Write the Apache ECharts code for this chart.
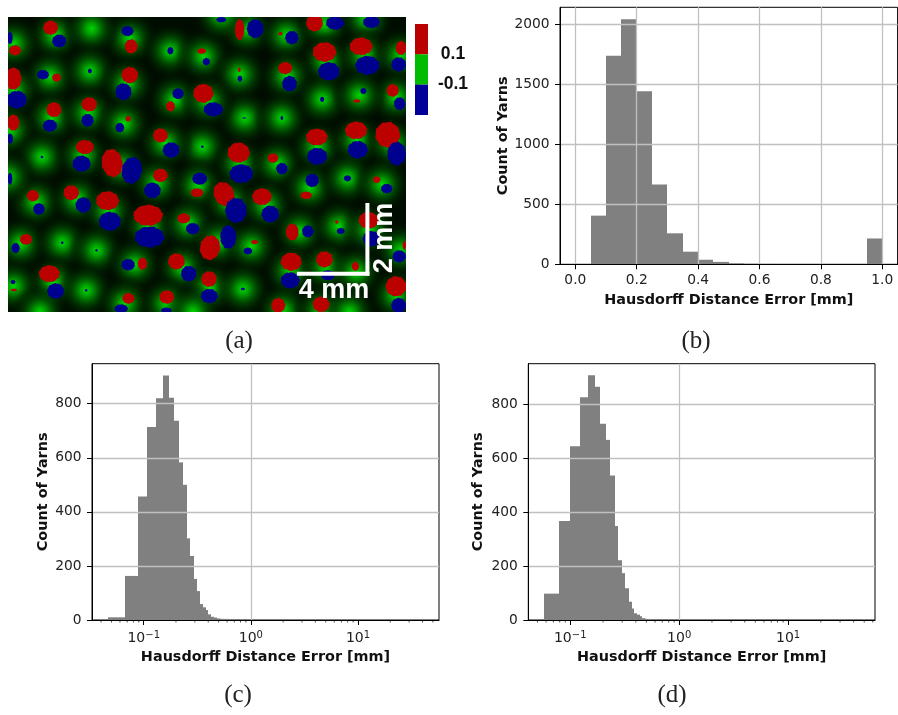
<!DOCTYPE html>
<html><head><meta charset="utf-8">
<style>html,body{margin:0;padding:0;background:#fff}#c{width:898px;height:715px}</style>
<script src="https://cdn.jsdelivr.net/npm/echarts@6/dist/echarts.min.js"></script>
</head><body><div id="c"></div>
<script>
// Panel (a): yarn map. Units are arbitrary map units.
const glowCentres = [[165,105],[40,130],[390,115],[275,85],[512,152],[612,168],[742,88],[860,105],[975,70],[1100,55],[665,45],[980,182],[1095,165],[1205,165],[150,228],[270,212],[382,250],[720,222],[862,228],[1190,290],[40,268],[155,352],[265,338],[372,370],[735,353],[847,353],[968,297],[1080,285],[525,298],[625,303],[30,390],[608,439],[497,428],[126,470],[250,465],[365,498],[720,490],[833,490],[953,440],[1072,420],[1180,430],[470,548],[595,555],[690,605],[800,615],[930,562],[1044,534],[1148,552],[108,605],[232,596],[326,632],[447,678],[565,670],[900,693],[1018,678],[1110,688],[1205,750],[62,730],[187,727],[290,750],[658,725],[755,738],[405,792],[548,802],[873,812],[980,800],[1070,815],[160,846],[259,870],[630,862],[730,866],[40,857],[375,910],[500,910],[850,930],[965,930],[1190,885],[1050,935],[120,935],[580,935],[25,530]];
const redBlobs = [[152,82,44,42,0],[45,150,36,30,0],[394,138,38,42,0],[606,152,26,16,0],[720,88,28,62,0],[843,100,12,10,0],[945,68,50,50,0],[975,155,70,58,0],[1085,138,68,52,0],[1205,143,32,42,0],[170,232,26,24,0],[390,224,50,48,0],[719,208,8,14,0],[857,203,42,36,0],[1180,270,36,38,0],[40,235,48,66,0],[162,328,44,44,0],[268,312,46,42,0],[385,355,16,16,0],[512,318,26,30,0],[611,279,60,56,0],[1072,302,22,10,0],[40,367,36,48,0],[255,440,54,42,0],[482,405,44,42,0],[337,488,62,84,-10],[717,457,66,60,0],[820,473,32,28,0],[952,410,64,50,0],[1070,390,66,52,0],[1165,403,74,76,-15],[482,525,44,40,0],[1132,538,22,20,0],[592,577,38,26,0],[673,581,60,74,-25],[787,589,58,50,0],[920,585,34,22,0],[99,586,36,34,0],[214,577,46,44,0],[323,601,68,56,0],[445,645,88,62,0],[552,654,38,30,0],[878,695,38,50,0],[1012,665,10,10,0],[1107,660,58,50,0],[78,717,36,32,0],[631,742,60,74,10],[765,725,20,12,0],[428,790,28,36,0],[530,783,50,48,0],[875,784,62,54,0],[975,777,50,48,0],[1068,798,22,26,0],[1215,735,10,26,0],[148,820,62,50,0],[628,836,46,46,0],[42,869,18,8,0],[386,894,36,32,0],[501,890,44,40,0],[836,915,42,44,0],[965,912,50,46,0],[1190,858,62,60,0]];
const blueBlobs = [[178,122,42,38,0],[30,113,16,36,0],[383,92,36,30,0],[512,151,18,22,0],[620,184,22,22,0],[767,85,50,56,0],[877,112,40,40,0],[1007,68,54,40,0],[1116,65,50,36,0],[665,58,30,16,0],[988,213,64,54,0],[1104,195,72,56,0],[1198,192,44,42,0],[129,223,36,28,0],[270,212,12,14,0],[721,235,14,18,0],[870,250,44,46,0],[535,280,34,32,0],[371,274,48,50,0],[50,298,60,52,0],[641,327,58,42,0],[1201,310,34,38,0],[968,297,12,16,0],[1092,272,18,18,0],[150,376,42,36,0],[263,360,36,38,0],[360,382,26,28,0],[734,353,12,4,0],[847,353,8,12,0],[30,415,18,30,0],[608,439,8,8,0],[514,449,50,46,0],[126,470,8,8,0],[245,490,54,48,0],[396,510,60,80,10],[725,520,70,56,0],[847,505,34,34,0],[953,468,60,50,0],[1075,448,60,52,0],[1192,460,56,70,0],[30,535,14,36,0],[458,570,50,46,0],[600,535,44,36,0],[938,540,40,40,0],[1044,534,22,18,0],[1162,565,34,28,0],[117,626,34,34,0],[250,614,46,46,0],[330,663,66,56,0],[709,630,64,74,0],[812,641,52,50,0],[449,710,88,62,0],[579,685,40,34,0],[925,693,34,36,0],[1024,692,24,18,0],[1115,715,50,46,0],[1200,768,40,36,0],[47,743,24,30,0],[187,727,8,8,0],[686,710,48,70,0],[290,750,8,8,0],[745,752,26,20,0],[385,793,40,34,0],[567,820,46,46,0],[872,840,56,48,0],[985,825,40,30,0],[39,845,14,12,0],[167,872,50,46,0],[259,870,8,8,0],[629,887,50,42,0],[730,866,12,8,0],[364,925,40,26,0],[500,930,32,16,0],[1198,915,44,44,0]];
const scaleBarH = [[892,820],[1110,820]];
const scaleBarV = [[1104,608],[1104,826]];
const colourBands = [[0.1,0.3],[-0.1,0.1],[-0.3,-0.1]];
const colourTicks = [-0.1,0.1];

// Panel (b)
const edgesB = [0.05,0.10,0.15,0.20,0.25,0.30,0.35,0.40,0.45,0.50,0.55,0.60,0.65,0.95,1.00];
const countsB = [405,1735,2040,1440,665,258,105,38,20,8,4,3,0,215];

// Panel (c)
const edgesC = [0.0468,0.067,0.0885,0.108,0.1294,0.1506,0.1713,0.192,0.2123,0.235,0.252,0.273,0.293,0.315,0.336,0.358,0.38,0.402,0.426,0.45,0.48,0.51,0.54,0.57,0.61,0.65,0.69,0.73,0.78,0.83,0.88,0.94,1.0,1.06,1.13,1.2];
const countsC = [10,163,457,714,820,904,822,737,583,500,302,237,152,107,59,47,37,21,12,9,6,5,4,4,3,3,3,2,2,2,2,2,1,1,1];

// Panel (d)
const edgesD = [0.0573,0.0793,0.1,0.1235,0.1452,0.1671,0.1884,0.2109,0.2328,0.2552,0.2757,0.2978,0.3197,0.3428,0.3653,0.3866,0.409,0.4326,0.4576,0.4842,0.51,0.54,0.57,0.6,0.64,0.68,0.72,0.77,0.82,0.87,0.93,1.0,1.07,1.15];
const countsD = [98,368,645,827,909,866,729,669,537,349,222,174,118,68,43,25,20,14,7,5,4,3,3,2,2,2,2,2,1,1,1,1,1];

const logMajor = [0.1,1,10];
const minorC = [0.04,0.05,0.06,0.07,0.08,0.09,0.2,0.3,0.4,0.5,0.6,0.7,0.8,0.9,2,3,4,5,6,7,8,9,20,30,40,50];
const minorD = [0.05,0.06,0.07,0.08,0.09,0.2,0.3,0.4,0.5,0.6,0.7,0.8,0.9,2,3,4,5,6,7,8,9,20,30,40,50,60];

const xTitle = 'Hausdorff Distance Error [mm]';
const yTitle = 'Count of Yarns';
const captions = ['(a)','(b)','(c)','(d)'];

const FONT = 'DejaVu Sans';
const hist = (edges, counts) => counts.map((c,i)=>[edges[i],edges[i+1],c]);

// ragged outline of a thresholded region: an ellipse with a small ripple on its edge
function raggedEllipse(rx,ry,seed){
  const pts=[], n=36;
  for(let k=0;k<n;k++){
    const t=k/n*2*Math.PI, q=1+0.035*Math.sin(9*t+seed)+0.03*Math.sin(17*t+2.3*seed);
    pts.push([rx*q*Math.cos(t),ry*q*Math.sin(t)]);
  }
  return pts;
}
function blobSeries(data, fill){
  return {type:'custom',xAxisIndex:0,yAxisIndex:0,clip:true,silent:true,data,encode:{x:0,y:1},
    renderItem(p,api){
      const c=api.coord([api.value(0),api.value(1)]), s=api.size([api.value(2),api.value(3)]);
      return {type:'polygon',x:c[0],y:c[1],rotation:-api.value(4)*Math.PI/180,
        shape:{points:raggedEllipse(s[0]/2,s[1]/2,p.dataIndex)},style:{fill}};
    }};
}
function glowSeries(data){
  return {type:'custom',xAxisIndex:0,yAxisIndex:0,clip:true,silent:true,data,encode:{x:0,y:1},
    renderItem(p,api){
      const c=api.coord([api.value(0),api.value(1)]), s=api.size([86,86]);
      return {type:'circle',shape:{cx:c[0],cy:c[1],r:s[0]},style:{
        fill:{type:'radial',x:0.5,y:0.5,r:0.5,colorStops:[
          {offset:0,color:'rgba(0,215,0,1)'},{offset:0.2,color:'rgba(0,165,0,0.95)'},
          {offset:0.5,color:'rgba(0,85,0,0.7)'},{offset:0.8,color:'rgba(0,35,0,0.35)'},{offset:1,color:'rgba(0,20,0,0)'}]}}};
    }};
}
function barLine(data, width){
  return {type:'custom',xAxisIndex:0,yAxisIndex:0,clip:true,silent:true,z:5,data:[0],
    renderItem(p,api){
      const a=api.coord(data[0]), b=api.coord(data[1]);
      return {type:'line',shape:{x1:a[0],y1:a[1],x2:b[0],y2:b[1]},style:{stroke:'#fff',lineWidth:width}};
    }};
}
function histSeries(idx,data){
  return {type:'custom',xAxisIndex:idx,yAxisIndex:idx,silent:true,z:2,data,encode:{x:[0,1],y:2},
    renderItem(p,api){
      const a=api.coord([api.value(0),0]), b=api.coord([api.value(1),api.value(2)]);
      const x0=Math.round(a[0]), x1=Math.max(Math.round(b[0]),x0+1);
      return {type:'rect',shape:{x:x0,y:b[1],width:x1-x0,height:a[1]-b[1]},style:{fill:'#808080'}};
    }};
}
function minorSeries(idx,data){
  return {type:'custom',xAxisIndex:idx,yAxisIndex:idx,silent:true,clip:false,z:4,data:data.map(v=>[v,0]),encode:{x:0,y:1},
    renderItem(p,api){
      const a=api.coord([api.value(0),0]);
      return {type:'line',shape:{x1:a[0],y1:a[1],x2:a[0],y2:a[1]+2.5},style:{stroke:'#000',lineWidth:0.7}};
    }};
}
const tickLabel = {fontFamily:FONT,fontSize:13.8,color:'#222',margin:10.5};
const titleStyle = {fontFamily:FONT,fontWeight:'bold',fontSize:14.4,color:'#111'};
const split = {show:true,showMinLine:false,showMaxLine:false,lineStyle:{color:'#c0c0c0',width:1.3}};
const line = {show:true,onZero:false,lineStyle:{color:'#000',width:1}};
const tick = {show:true,length:5,lineStyle:{color:'#000',width:1}};

function yAx(idx,max,splitNumber,nameGap){
  return {type:'value',gridIndex:idx,min:0,max,splitNumber,z:3,name:yTitle,nameLocation:'middle',nameGap,nameTextStyle:titleStyle,
    axisLine:line,axisTick:tick,splitLine:split,
    axisLabel:Object.assign({},tickLabel,{showMinLabel:true,showMaxLabel:false,formatter:v=>String(v)})};
}
function xLog(idx,min,max){
  return {type:'log',logBase:10,gridIndex:idx,min,max,z:3,name:xTitle,nameLocation:'middle',nameGap:30,nameTextStyle:titleStyle,
    axisLine:line,axisTick:Object.assign({},tick,{customValues:logMajor}),splitLine:split,minorTick:{show:false},
    axisLabel:Object.assign({},tickLabel,{customValues:logMajor,hideOverlap:false,margin:10,
      formatter:v=>{const e=Math.round(Math.log10(v));return '{b|10}{s|'+String(e).replace('-','\u2212')+'}';},
      rich:{b:{fontFamily:FONT,fontSize:14,color:'#222'},s:{fontFamily:FONT,fontSize:10,color:'#222',padding:[0,0,7,0]}}})};
}

const option = {
  animation:false,backgroundColor:'#fff',
  grid:[
    {left:8,top:17,width:398,height:295,show:true,backgroundColor:'#000c00',borderWidth:0},
    {left:415,top:24,width:13,height:91,show:false},
    {left:560,top:7.3,width:337.6,height:257,show:true,borderColor:'#000',borderWidth:1},
    {left:92,top:363.7,width:347,height:256.3,show:true,borderColor:'#000',borderWidth:1},
    {left:528.3,top:363.7,width:346.7,height:256.3,show:true,borderColor:'#000',borderWidth:1}
  ],
  xAxis:[
    {type:'value',gridIndex:0,min:24,max:1220,show:false},
    {type:'value',gridIndex:1,min:0,max:1,show:false},
    {type:'value',gridIndex:2,min:-0.05,max:1.05,splitNumber:5,z:3,name:xTitle,nameLocation:'middle',nameGap:29,nameTextStyle:titleStyle,
      axisLine:line,axisTick:tick,splitLine:split,
      axisLabel:Object.assign({},tickLabel,{showMinLabel:false,showMaxLabel:false,margin:9,formatter:v=>v.toFixed(1)})},
    xLog(3,0.0329,57),
    xLog(4,0.0412,62.8)
  ],
  yAxis:[
    {type:'value',gridIndex:0,min:50,max:935,inverse:true,show:false},
    {type:'value',gridIndex:1,min:-0.3,max:0.3,position:'right',
      axisLine:{show:false},splitLine:{show:false},
      axisTick:{show:true,length:5,customValues:colourTicks,lineStyle:{color:'#999',width:1}},
      axisLabel:{customValues:colourTicks,align:'center',margin:25,fontFamily:'Liberation Sans',fontWeight:'bold',fontSize:17.5,color:'#111',
        formatter:v=>v.toFixed(1)}},
    yAx(2,2139,4,49),
    yAx(3,948,5,42),
    yAx(4,952,5,43)
  ],
  series:[
    glowSeries(glowCentres),
    blobSeries(redBlobs,'#bb0000'),
    blobSeries(blueBlobs,'#00008f'),
    barLine(scaleBarH,4),
    barLine(scaleBarV,4),
    {type:'custom',xAxisIndex:1,yAxisIndex:1,silent:true,data:colourBands,encode:{y:[0,1]},
      renderItem(p,api){
        const a=api.coord([0,api.value(1)]), b=api.coord([1,api.value(0)]);
        return {type:'rect',shape:{x:a[0],y:a[1],width:b[0]-a[0],height:b[1]-a[1]},
          style:{fill:['#bb0000','#00bb00','#000099'][p.dataIndex]}};
      }},
    histSeries(2,hist(edgesB,countsB)),
    histSeries(3,hist(edgesC,countsC)),
    histSeries(4,hist(edgesD,countsD)),
    minorSeries(3,minorC),
    minorSeries(4,minorD)
  ],
  graphic:[
    {type:'text',x:334,y:291,z:20,style:{text:'4 mm',fill:'#fff',fontFamily:'Liberation Sans',fontWeight:'bold',fontSize:27,align:'center',verticalAlign:'middle'}},
    {type:'text',x:385,y:238,z:20,rotation:Math.PI/2,style:{text:'2 mm',fill:'#fff',fontFamily:'Liberation Sans',fontWeight:'bold',fontSize:27,align:'center',verticalAlign:'middle'}},
    ...[[239,341],[696,341],[238,695],[672,695]].map((p,i)=>({type:'text',x:p[0],y:p[1],style:{text:captions[i],fill:'#222',fontFamily:'Liberation Serif',fontSize:25,align:'center',verticalAlign:'middle'}}))
  ]
};
echarts.init(document.getElementById('c'),null,{renderer:'canvas'}).setOption(option);
</script></body></html>
